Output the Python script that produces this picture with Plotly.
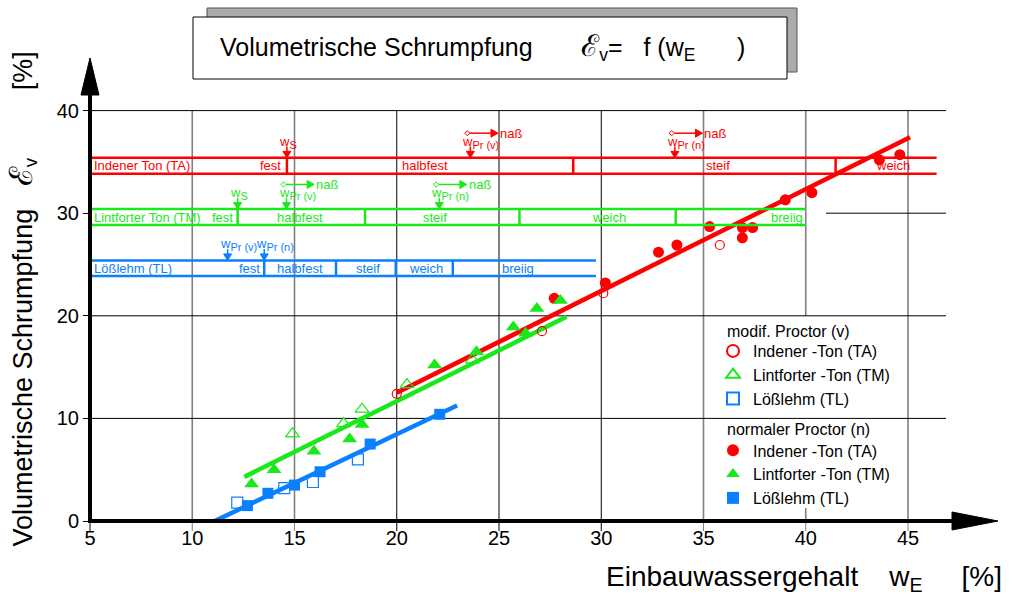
import plotly.graph_objects as go

# ---------------- data ----------------
# modif. Proctor (v) -- open symbols
ta_v_x = [20.0, 27.1, 30.1, 35.8]
ta_v_y = [12.4, 18.5, 22.2, 26.9]
tm_v_x = [14.9, 17.4, 18.3, 20.5, 23.7]
tm_v_y = [8.5, 9.5, 10.9, 13.3, 15.7]
tl_v_x = [12.2, 14.5, 15.9, 18.1]
tl_v_y = [1.8, 3.2, 3.8, 6.0]
# normaler Proctor (n) -- filled symbols
ta_n_x = [27.7, 30.2, 32.8, 33.7, 35.3, 36.9, 36.9, 37.4, 39.0, 40.3, 43.6, 44.6]
ta_n_y = [21.7, 23.2, 26.2, 26.9, 28.7, 28.6, 27.6, 28.6, 31.3, 32.0, 35.2, 35.7]
tm_n_x = [12.9, 14.0, 15.95, 17.7, 18.3, 21.85, 23.9, 25.7, 26.3, 26.85, 28.0]
tm_n_y = [3.6, 5.0, 6.8, 8.0, 9.4, 15.2, 16.5, 18.9, 18.3, 20.7, 21.5]
tl_n_x = [12.7, 13.7, 15.0, 16.25, 18.7, 22.1]
tl_n_y = [1.5, 2.7, 3.5, 4.8, 7.5, 10.4]
# regression lines
fit_ta_x = [20.0, 45.1]
fit_ta_y = [12.5, 37.4]
fit_tm_x = [12.55, 28.3]
fit_tm_y = [4.3, 19.9]
fit_tl_x = [11.1, 22.95]
fit_tl_y = [0.0, 11.25]

x_ticks = [5, 10, 15, 20, 25, 30, 35, 40, 45]
y_ticks = [0, 10, 20, 30, 40]

# consistency bands
band_names = ["Indener Ton (TA)", "Lintforter Ton (TM)", "Lößlehm (TL)"]
band_bottom = [33.85, 28.85, 23.87]
band_top = [35.4, 30.4, 25.4]
band_end = [46.4, 40.0, 29.74]
band_dividers = [[14.63, 28.63, 41.46],
                 [12.22, 18.45, 26.0, 33.64],
                 [13.52, 17.03, 19.95, 22.74]]
band_states = [["fest", "halbfest", "steif", "weich"],
               ["fest", "halbfest", "steif", "weich", "breiig"],
               ["fest", "halbfest", "steif", "weich", "breiig"]]
band_state_x = [[14.45, 21.38, 35.71, 44.27],
                [12.1, 15.27, 21.87, 30.38, 39.08],
                [13.4, 15.27, 18.57, 21.43, 25.91]]
# water content markers: (band, subscript, x, with "naß" arrow)
w_marks = [(0, "S", 14.63, False), (0, "Pr (v)", 23.6, True), (0, "Pr (n)", 33.6, True),
           (1, "S", 12.22, False), (1, "Pr (v)", 14.61, True), (1, "Pr (n)", 22.08, True),
           (2, "Pr (v)", 11.73, False), (2, "Pr (n)", 13.52, False)]

RED = "#ff0000"
GREEN = "#1be81b"
BLUE = "#0a80ff"
band_colors = [RED, GREEN, BLUE]
FONT = "Liberation Sans, Arial, sans-serif"
NB = "\u00a0"

# ---------------- geometry helpers (paper coords for decorations) ----------------
L, R, T, B = 90, 10, 55, 78
W, H = 1015, 599
PW, PH = W - L - R, H - T - B
SX, SY = 20.45, 10.26          # pixels per data unit
XR = [5, 5 + PW / SX]
YR = [0, PH / SY]


def PX(px):
    return (px - L) / PW


def PY(py):
    return (H - B - py) / PH


def XP(xv):
    return (xv - XR[0]) / (XR[1] - XR[0])


fig = go.Figure()

# ---------------- traces ----------------
for fx, fy, c in ((fit_ta_x, fit_ta_y, RED), (fit_tm_x, fit_tm_y, GREEN), (fit_tl_x, fit_tl_y, BLUE)):
    fig.add_trace(go.Scatter(x=fx, y=fy, mode="lines", line=dict(color=c, width=4.5),
                             showlegend=False, hoverinfo="skip"))

fig.add_trace(go.Scatter(x=ta_v_x, y=ta_v_y, mode="markers", name="Indener -Ton (TA)",
                         legendgroup="v",
                         marker=dict(symbol="circle-open", size=9, color=RED, line=dict(width=1.2))))
fig.add_trace(go.Scatter(x=tm_v_x, y=tm_v_y, mode="markers", name="Lintforter -Ton (TM)",
                         legendgroup="v",
                         marker=dict(symbol="triangle-up-open", size=12, color=GREEN, line=dict(width=1.2))))
fig.add_trace(go.Scatter(x=tl_v_x, y=tl_v_y, mode="markers", name="Lößlehm (TL)",
                         legendgroup="v",
                         marker=dict(symbol="square-open", size=11, color=BLUE, line=dict(width=1.2))))
fig.add_trace(go.Scatter(x=ta_n_x, y=ta_n_y, mode="markers", name="Indener -Ton (TA)",
                         legendgroup="n",
                         marker=dict(symbol="circle", size=11, color=RED)))
fig.add_trace(go.Scatter(x=tm_n_x, y=tm_n_y, mode="markers", name="Lintforter -Ton (TM)",
                         legendgroup="n",
                         marker=dict(symbol="triangle-up", size=13, color=GREEN)))
fig.add_trace(go.Scatter(x=tl_n_x, y=tl_n_y, mode="markers", name="Lößlehm (TL)",
                         legendgroup="n",
                         marker=dict(symbol="square", size=11, color=BLUE)))

shapes = []
ann = []

# ---------------- grid ----------------
for xv in x_ticks[1:]:
    col = "black" if xv in (20, 25, 30) else "#808080"
    wd = 1 if xv in (20, 25, 30) else 1.6
    segs = [(0, 1.27), (20, 40)] if xv == 40 else [(0, 40)]
    for y0, y1 in segs:
        shapes.append(dict(type="line", xref="x", yref="y", x0=xv, x1=xv, y0=y0, y1=y1,
                           line=dict(color=col, width=wd), layer="below"))
for xv in x_ticks:
    col = "black" if xv in (5, 20, 25, 30) else "#808080"
    shapes.append(dict(type="line", xref="paper", yref="paper", x0=XP(xv), x1=XP(xv),
                       y0=PY(531), y1=0, line=dict(color=col, width=1), layer="below"))
for yv in y_ticks[1:]:
    x0 = 40.99 if yv == 30 else 5
    shapes.append(dict(type="line", xref="x", yref="y", x0=x0, x1=46.86, y0=yv, y1=yv,
                       line=dict(color="black", width=1), layer="below"))

# ---------------- consistency bands ----------------
for i, name in enumerate(band_names):
    c = band_colors[i]
    for yy in (band_bottom[i], band_top[i]):
        shapes.append(dict(type="line", xref="x", yref="y", x0=5, x1=band_end[i], y0=yy, y1=yy,
                           line=dict(color=c, width=2.5)))
    for xd in band_dividers[i]:
        shapes.append(dict(type="line", xref="x", yref="y", x0=xd, x1=xd,
                           y0=band_bottom[i], y1=band_top[i], line=dict(color=c, width=2.5)))
    ymid = (band_bottom[i] + band_top[i]) / 2
    ann.append(dict(x=5, y=ymid, xref="x", yref="y", text=name, showarrow=False,
                    xanchor="left", xshift=2, yanchor="middle", font=dict(size=13, color=c)))
    for j, st in enumerate(band_states[i]):
        ann.append(dict(x=band_state_x[i][j], y=ymid, xref="x", yref="y", text=st, showarrow=False,
                        xanchor="right" if j == 0 else "center", yanchor="middle",
                        font=dict(size=13, color=c)))

# arrow geometry in data units (derived from pixel sizes)
HW, HL = 4 / SX, 6.5 / SY           # head half-width / length of vertical arrows
hHW, hHL = 4 / SY, 7 / SX           # head half-height / length of horizontal arrows
DX, DY = 2.6 / SX, 2.6 / SY         # small diamond at arrow start

for bi, sub, xm, nass in w_marks:
    c = band_colors[bi]
    yt = band_top[bi]
    ya = yt + 1.1
    shapes.append(dict(type="line", xref="x", yref="y", x0=xm, x1=xm, y0=yt + HL * 0.8, y1=ya,
                       line=dict(color=c, width=1.5)))
    shapes.append(dict(type="path", xref="x", yref="y",
                       path="M %f,%f L %f,%f L %f,%f Z" % (xm - HW, yt + HL, xm, yt, xm + HW, yt + HL),
                       fillcolor=c, line=dict(color=c, width=1)))
    ann.append(dict(x=xm, y=ya, xref="x", yref="y",
                    text="w<sub><span style='font-size:11px'>%s</span></sub>" % sub,
                    showarrow=False, xanchor="left", xshift=-10, yanchor="bottom", yshift=-6,
                    font=dict(size=13, color=c)))
    if nass:
        yn = yt + 2.4
        xs, xe = xm - 0.15, xm + 1.35
        shapes.append(dict(type="line", xref="x", yref="y", x0=xs + DX, x1=xe - hHL * 0.8,
                           y0=yn, y1=yn, line=dict(color=c, width=1.5)))
        shapes.append(dict(type="path", xref="x", yref="y",
                           path="M %f,%f L %f,%f L %f,%f Z" % (xe - hHL, yn - hHW, xe, yn, xe - hHL, yn + hHW),
                           fillcolor=c, line=dict(color=c, width=1)))
        shapes.append(dict(type="path", xref="x", yref="y",
                           path="M %f,%f L %f,%f L %f,%f L %f,%f Z" % (xs - DX, yn, xs, yn + DY,
                                                                        xs + DX, yn, xs, yn - DY),
                           fillcolor="white", line=dict(color=c, width=1)))
        ann.append(dict(x=xe, y=yn, xref="x", yref="y", text="naß", showarrow=False,
                        xanchor="left", yanchor="middle", xshift=0,
                        font=dict(size=13, color=c)))

# ---------------- axes lines with arrow heads ----------------
shapes.append(dict(type="line", xref="paper", yref="paper", x0=PX(90), x1=PX(90),
                   y0=PY(523), y1=PY(92), line=dict(color="black", width=4), layer="above"))
shapes.append(dict(type="path", xref="paper", yref="paper",
                   path="M %f,%f L %f,%f L %f,%f Z" % (PX(81), PY(95), PX(90), PY(58), PX(99), PY(95)),
                   fillcolor="black", line=dict(color="black", width=1), layer="above"))
shapes.append(dict(type="line", xref="paper", yref="paper", x0=PX(88), x1=PX(955),
                   y0=PY(521), y1=PY(521), line=dict(color="black", width=4), layer="above"))
shapes.append(dict(type="path", xref="paper", yref="paper",
                   path="M %f,%f L %f,%f L %f,%f Z" % (PX(952), PY(512), PX(998), PY(521), PX(952), PY(530)),
                   fillcolor="black", line=dict(color="black", width=1), layer="above"))

# ---------------- title box ----------------
shapes.append(dict(type="rect", xref="paper", yref="paper", x0=PX(207), x1=PX(797),
                   y0=PY(72), y1=PY(8), fillcolor="#ababab", line=dict(color="#555555", width=1),
                   layer="above"))
shapes.append(dict(type="rect", xref="paper", yref="paper", x0=PX(193), x1=PX(787),
                   y0=PY(79), y1=PY(17), fillcolor="white", line=dict(color="black", width=1),
                   layer="above"))
ann.append(dict(xref="paper", yref="paper", x=PX(218), y=PY(47), xanchor="left", yanchor="middle",
                showarrow=False,
                text="Volumetrische Schrumpfung" + NB * 7 +
                     "<span style='font-size:30px'>ℰ</span><sub>v</sub>=" + NB * 3 +
                     "f (w<sub>E</sub>" + NB * 6 + ")",
                font=dict(size=25, color="black")))

# axis titles
ann.append(dict(xref="paper", yref="paper", x=PX(604), y=PY(578), xanchor="left", yanchor="middle",
                showarrow=False,
                text="Einbauwassergehalt" + NB * 4 + "w<sub>E</sub>" + NB * 5 + "[%]",
                font=dict(size=28, color="black")))
ann.append(dict(xref="paper", yref="paper", x=PX(22), y=PY(549), xanchor="center", yanchor="bottom",
                showarrow=False, textangle=-90,
                text="Volumetrische Schrumpfung" + NB * 3 +
                     "<span style='font-size:32px'>ℰ</span><sub>v</sub>" + NB * 9 + "[%]",
                font=dict(size=27, color="black")))

# legend group titles
ann.append(dict(xref="paper", yref="paper", x=PX(725), y=PY(331), xanchor="left", yanchor="middle",
                showarrow=False, text="modif. Proctor (v)", font=dict(size=16, color="black")))
ann.append(dict(xref="paper", yref="paper", x=PX(725), y=PY(429), xanchor="left", yanchor="middle",
                showarrow=False, text="normaler Proctor (n)", font=dict(size=16, color="black")))

fig.update_layout(
    width=W, height=H,
    margin=dict(l=L, r=R, t=T, b=B, autoexpand=False),
    paper_bgcolor="white", plot_bgcolor="white",
    font=dict(family=FONT, color="black"),
    shapes=shapes, annotations=ann,
    showlegend=True,
    legend=dict(x=PX(713), y=PY(334), xanchor="left", yanchor="top",
                bgcolor="rgba(0,0,0,0)", font=dict(size=16), traceorder="grouped",
                tracegroupgap=28, itemsizing="constant"),
    xaxis=dict(range=XR, showgrid=False, zeroline=False, showline=False,
               tickmode="array", tickvals=x_ticks, ticks="", ticklabelstandoff=3,
               tickfont=dict(size=20), fixedrange=True),
    yaxis=dict(range=YR, showgrid=False, zeroline=False, showline=False,
               tickmode="array", tickvals=y_ticks, ticks="outside", ticklen=6,
               tickcolor="black", tickfont=dict(size=20), fixedrange=True),
)

fig.write_html("out.html")
